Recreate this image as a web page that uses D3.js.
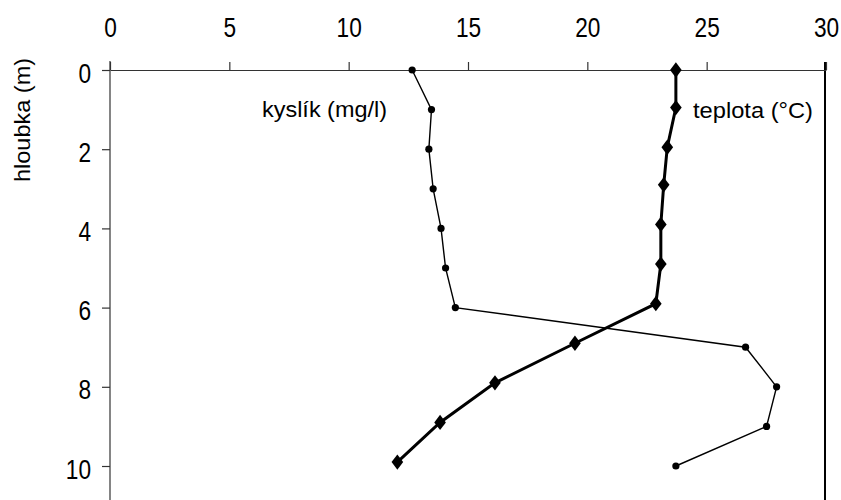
<!DOCTYPE html>
<html>
<head>
<meta charset="utf-8">
<script src="https://cdn.jsdelivr.net/npm/d3@7"></script>
<style>
  html, body { margin: 0; padding: 0; background: #fff; }
  svg { display: block; font-family: "Liberation Sans", Arial, Helvetica, sans-serif; }
</style>
</head>
<body>
<svg id="chart" width="841" height="500"></svg>
<script>
// Vertical profile of a lake: dissolved oxygen and water temperature by depth
const oxygenDepth = [0, 1, 2, 3, 4, 5, 6, 7, 8, 9, 10];
const oxygenValues = [12.66, 13.47, 13.36, 13.54, 13.87, 14.06, 14.47, 26.63, 27.93, 27.51, 23.71];

const tempDepth = [0, 0.95, 1.95, 2.9, 3.9, 4.9, 5.9, 6.9, 7.9, 8.9, 9.9];
const tempValues = [23.71, 23.71, 23.35, 23.2, 23.08, 23.08, 22.87, 19.48, 16.13, 13.83, 12.04];

const xTicks = [0, 5, 10, 15, 20, 25, 30];
const yTicks = [0, 2, 4, 6, 8, 10];

const W = 841, H = 500;
const svg = d3.select("#chart");
const tickFont = "'Liberation Sans', Arial, sans-serif";
const narrow = 0.84; // horizontal squeeze for the condensed tick numerals

const x = d3.scaleLinear().domain([0, 30]).range([110, 826]);
const y = d3.scaleLinear().domain([0, 10]).range([70, 466]);

// Frame: left axis line and the heavier right border run to the bottom edge
svg.append("line")
  .attr("x1", x(0)).attr("x2", x(0))
  .attr("y1", y(0) - 9).attr("y2", H)
  .attr("stroke", "#333").attr("stroke-width", 1.2);
svg.append("line")
  .attr("x1", x(30) - 1).attr("x2", x(30) - 1)
  .attr("y1", y(0) - 8).attr("y2", H)
  .attr("stroke", "#000").attr("stroke-width", 2);

// Top x axis
const xAxis = svg.append("g")
  .attr("transform", `translate(0,${y(0)})`)
  .call(d3.axisTop(x).tickValues(xTicks).tickSize(8).tickSizeOuter(0).tickPadding(33));
xAxis.select(".domain").attr("stroke", "#333").attr("stroke-width", 1.2);
xAxis.selectAll(".tick line").attr("stroke", "#333").attr("stroke-width", 1.2);
xAxis.selectAll(".tick text")
  .attr("fill", "#000")
  .attr("font-size", 27)
  .attr("font-family", tickFont)
  .attr("dy", 0)
  .attr("y", 0)
  .attr("transform", `translate(0,-33) scale(${narrow},1)`);

// Left y axis (depth)
const yAxis = svg.append("g")
  .attr("transform", `translate(${x(0)},0)`)
  .call(d3.axisLeft(y).tickValues(yTicks).tickSize(8).tickSizeOuter(0).tickPadding(11));
yAxis.select(".domain").remove();
yAxis.selectAll(".tick line").attr("stroke", "#333").attr("stroke-width", 1.2);
yAxis.selectAll(".tick text")
  .attr("fill", "#000")
  .attr("font-size", 27)
  .attr("font-family", tickFont)
  .attr("x", 0)
  .attr("dy", 0)
  .attr("transform", `translate(-19,12) scale(${narrow},1)`);

// Axis title
svg.append("text")
  .attr("transform", "translate(30,120) rotate(-90)")
  .attr("text-anchor", "middle")
  .attr("font-size", 22)
  .attr("textLength", 124)
  .attr("lengthAdjust", "spacingAndGlyphs")
  .attr("fill", "#000")
  .text("hloubka (m)");

// Oxygen profile: thin line with round markers
const oxy = oxygenDepth.map((d, i) => ({ d, v: oxygenValues[i] }));
const tmp = tempDepth.map((d, i) => ({ d, v: tempValues[i] }));

const line = d3.line().x(p => x(p.v)).y(p => y(p.d));

svg.append("path")
  .datum(oxy)
  .attr("d", line)
  .attr("fill", "none")
  .attr("stroke", "#000")
  .attr("stroke-width", 1.4);

svg.selectAll(".oxy")
  .data(oxy)
  .enter().append("circle")
  .attr("class", "oxy")
  .attr("cx", p => x(p.v))
  .attr("cy", p => y(p.d))
  .attr("r", 3.6)
  .attr("fill", "#000");

// Temperature profile: heavy line with diamond markers
svg.append("path")
  .datum(tmp)
  .attr("d", line)
  .attr("fill", "none")
  .attr("stroke", "#000")
  .attr("stroke-width", 3);

const diamond = d3.symbol().type(d3.symbolDiamond).size(75);
svg.selectAll(".tmp")
  .data(tmp)
  .enter().append("path")
  .attr("class", "tmp")
  .attr("d", diamond)
  .attr("transform", p => `translate(${x(p.v)},${y(p.d)}) scale(1.25,0.95)`)
  .attr("fill", "#000");

// Series labels
svg.append("text")
  .attr("x", 262).attr("y", 117)
  .attr("font-size", 22)
  .attr("textLength", 125)
  .attr("lengthAdjust", "spacingAndGlyphs")
  .attr("fill", "#000")
  .text("kyslík (mg/l)");

svg.append("text")
  .attr("x", 693).attr("y", 118)
  .attr("font-size", 22)
  .attr("textLength", 120)
  .attr("lengthAdjust", "spacingAndGlyphs")
  .attr("fill", "#000")
  .text("teplota (°C)");
</script>
</body>
</html>
